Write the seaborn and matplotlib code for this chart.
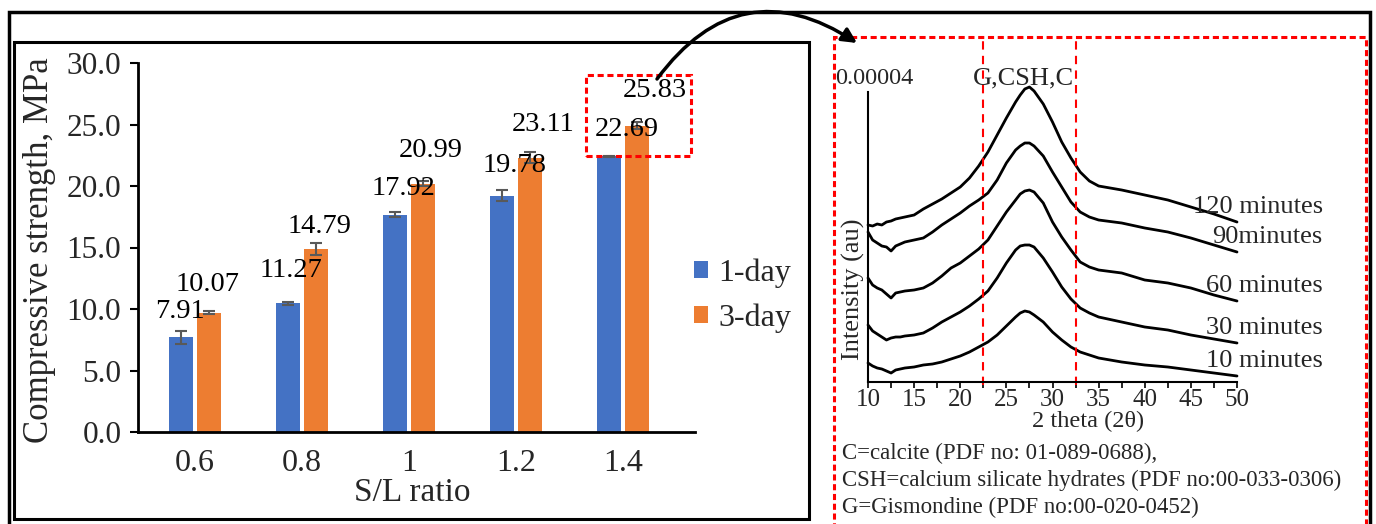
import numpy as np
import pandas as pd
import matplotlib
matplotlib.use("Agg")
import matplotlib.pyplot as plt
import seaborn as sns
from matplotlib.patches import Rectangle, FancyArrowPatch
from matplotlib.ticker import FormatStrFormatter, MultipleLocator

#%% data
sl_ratio = ["0.6", "0.8", "1", "1.2", "1.4"]
strength_1day = [7.7, 10.45, 17.65, 19.2, 22.4]
strength_3day = [9.7, 14.9, 20.2, 22.3, 24.9]
err_1day = [0.55, 0.12, 0.2, 0.45, 0.06]
err_3day = [0.1, 0.5, 0.22, 0.45, 0.3]
label_1day = ["7.91", "11.27", "17.92", "19.78", "22.69"]
label_3day = ["10.07", "14.79", "20.99", "23.11", "25.83"]

two_theta = [10, 10.5, 11, 11.5, 12, 12.5, 13, 13.5, 14, 15, 16, 17, 18, 19, 20,
             21, 22, 23, 24, 25, 26, 26.5, 27, 27.5, 28, 29, 30, 31, 32, 33,
             34, 35, 37.5, 40, 42.5, 45, 47.5, 50]
xrd_10 = [19, 16, 14, 13, 11, 9, 12, 13, 14, 15, 17, 18, 20, 23, 26, 30, 35, 40, 47,
          56, 65, 69, 71, 70, 67, 60, 50, 42, 35, 30, 27, 24, 20, 17, 15, 12, 9, 6]
xrd_30 = [57, 51, 48, 45, 42, 44, 45, 45, 46, 47, 49, 54, 60, 65, 70, 76, 83, 91, 104,
          119, 132, 136, 137, 137, 135, 124, 110, 95, 83, 74, 69, 65, 60, 55, 52, 47, 43, 39]
xrd_60 = [104, 97, 94, 92, 88, 84, 89, 90, 91, 92, 94, 99, 106, 114, 119, 126, 133, 142, 156,
          170, 182, 188, 191, 192, 190, 179, 160, 145, 132, 120, 115, 112, 109, 102, 99, 94, 87, 81]
xrd_90 = [150, 142, 139, 136, 135, 131, 136, 138, 140, 142, 144, 150, 157, 163, 169, 176, 182, 189, 202,
          219, 232, 236, 239, 239, 236, 226, 210, 195, 180, 170, 165, 162, 159, 154, 150, 144, 137, 130]
xrd_120 = [157, 156, 158, 157, 160, 161, 163, 164, 165, 167, 173, 178, 183, 189, 195, 204, 216, 230, 247,
           264, 280, 287, 293, 295, 291, 278, 260, 240, 224, 210, 201, 196, 192, 187, 182, 175, 168, 160]
curve_names = ["10 minutes", "30 minutes", "60 minutes", "90minutes", "120 minutes"]
curves = [xrd_10, xrd_30, xrd_60, xrd_90, xrd_120]

W, H = 1376, 524
def fx(px):
    return px / W
def fy(py):
    return 1 - py / H

sns.set_theme(style="white")
plt.rcParams['font.family'] = ['Liberation Serif', 'DejaVu Serif']

fig = plt.figure(figsize=(W / 100, H / 100), dpi=100)

#%% left: compressive strength bars
ax1 = fig.add_axes([fx(138), fy(432), (695 - 138) / W, (432 - 63) / H])
bars = pd.DataFrame({'ratio': sl_ratio * 2,
                     'strength': strength_1day + strength_3day,
                     'age': ['1-day'] * 5 + ['3-day'] * 5})
sns.barplot(data=bars, x='ratio', y='strength', hue='age', order=sl_ratio,
            palette=['#4472C4', '#ED7D31'], saturation=1, width=0.52, gap=0.12,
            errorbar=None, linewidth=0, ax=ax1)

for cont, errs, labs in zip(ax1.containers, [err_1day, err_3day], [label_1day, label_3day]):
    xs = [b.get_x() + b.get_width() / 2 for b in cont]
    hs = [b.get_height() for b in cont]
    ax1.errorbar(xs, hs, yerr=errs, fmt='none', ecolor='#595959', elinewidth=1.5,
                 capsize=4, capthick=1.5)
    for i, (x, lab) in enumerate(zip(xs, labs)):
        ax1.text(x - 0.015 + 0.045 * i, float(lab) + 1.9, lab, ha='center', va='center',
                 fontsize=20.5, color='black')

ax1.set_ylim(0, 30)
ax1.set_xlim(-0.533, 4.673)
ax1.yaxis.set_major_locator(MultipleLocator(5))
ax1.yaxis.set_major_formatter(FormatStrFormatter('%.1f'))
ax1.tick_params(axis='y', length=6, width=1.5, labelsize=22.5, pad=6, color='black', left=True)
ax1.tick_params(axis='x', length=0, labelsize=23, pad=12)
ax1.set_xlabel('')
ax1.set_ylabel('')
sns.despine(ax=ax1)
for s in ['left', 'bottom']:
    ax1.spines[s].set_color('black')
    ax1.spines[s].set_linewidth(2)

handles, labels = ax1.get_legend_handles_labels()
ax1.legend(handles, labels, loc='upper left', bbox_to_anchor=(fx(694), fy(258)),
           bbox_transform=fig.transFigure, frameon=False, fontsize=23,
           handlelength=0.45, handleheight=0.45, handletextpad=0.3, labelspacing=0.5,
           borderpad=0, borderaxespad=0)

ax1.add_patch(Rectangle((4 - 0.35, 22.4), 0.99, 6.6, fill=False, ec='#FF0000',
                        ls=(0, (2, 1.2)), lw=2.2, clip_on=False))

fig.text(fx(40), fy(250), 'Compressive strength, MPa', rotation=90, ha='center', va='center', fontsize=25)
fig.text(fx(412), fy(493), 'S/L ratio', ha='center', va='center', fontsize=24)

#%% right: XRD patterns
ax2 = fig.add_axes([fx(868), fy(382), (1237 - 868) / W, (382 - 92) / H])
xrd = pd.DataFrame({'two_theta': two_theta * len(curves),
                    'intensity': sum(curves, []),
                    'curve': np.repeat(curve_names, len(two_theta))})
sns.lineplot(data=xrd, x='two_theta', y='intensity', units='curve', estimator=None,
             sort=False, color='black', lw=2, ax=ax2)
for ln in ax2.lines:
    ln.set_clip_on(False)
for name, vals in zip(curve_names, curves):
    ax2.text(59.3, vals[-1] + 15, name, ha='right', va='center', fontsize=19, clip_on=False)

for x in [22.5, 32.5]:
    ax2.axvline(x, ymin=-0.01, ymax=(382 - 37) / 290, color='#FF0000', ls=(0, (4, 3)),
                lw=1.5, clip_on=False)

ax2.set_xlim(10, 50)
ax2.set_ylim(0, 290)
ax2.xaxis.set_major_locator(MultipleLocator(5))
ax2.xaxis.set_minor_locator(MultipleLocator(2.5))
ax2.tick_params(axis='x', which='both', direction='out', length=4, width=1.2,
                labelsize=18, pad=1, bottom=True, color='black')
ax2.tick_params(axis='y', left=False, labelleft=False)
ax2.set_xlabel('')
ax2.set_ylabel('')
sns.despine(ax=ax2)
for s in ['left', 'bottom']:
    ax2.spines[s].set_color('black')
    ax2.spines[s].set_linewidth(1.5)

fig.text(fx(835), fy(78), '0.00004', ha='left', va='center', fontsize=17.5)
fig.text(fx(1023), fy(78), 'G,CSH,C', ha='center', va='center', fontsize=19)
fig.text(fx(853), fy(289), 'Intensity (au)', rotation=90, ha='center', va='center', fontsize=19)
fig.text(fx(1088), fy(421), '2 theta (2θ)', ha='center', va='center', fontsize=17.5)
fig.text(fx(842), fy(453), 'C=calcite (PDF no: 01-089-0688),', ha='left', va='center', fontsize=16.5)
fig.text(fx(842), fy(480), 'CSH=calcium silicate hydrates (PDF no:00-033-0306)', ha='left', va='center', fontsize=16.5)
fig.text(fx(842), fy(507), 'G=Gismondine (PDF no:00-020-0452)', ha='left', va='center', fontsize=16.5)

#%% frames and arrow
fig.add_artist(Rectangle((fx(9), fy(560)), (1370 - 9) / W, (560 - 12) / H, transform=fig.transFigure,
                         fill=False, ec='black', lw=2.5))
fig.add_artist(Rectangle((fx(14), fy(519)), (809 - 14) / W, (519 - 42) / H, transform=fig.transFigure,
                         fill=False, ec='black', lw=2.2))
fig.add_artist(Rectangle((fx(834), fy(560)), (1366 - 834) / W, (560 - 37) / H, transform=fig.transFigure,
                         fill=False, ec='#FF0000', ls=(0, (2, 1.2)), lw=2.2))
fig.add_artist(FancyArrowPatch(posA=(fx(657), fy(79)), posB=(fx(857), fy(43)),
                               transform=fig.transFigure, connectionstyle='arc3,rad=-0.47',
                               arrowstyle='-|>', mutation_scale=22, lw=2.5, color='black',
                               shrinkA=0, shrinkB=0))

fig.savefig('out.png', dpi=100)
